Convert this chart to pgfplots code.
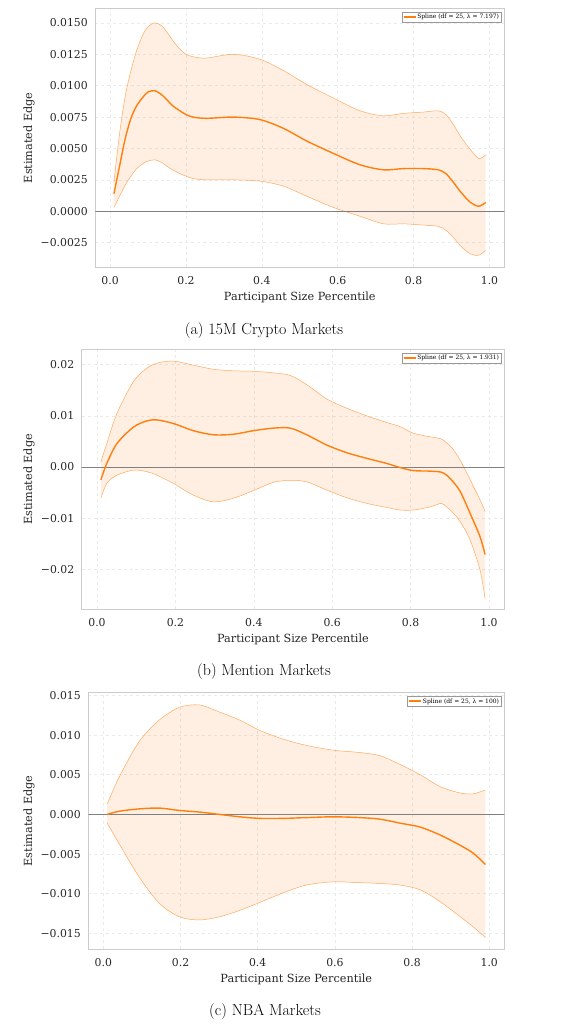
\documentclass[border=0pt]{standalone}
\usepackage{fontspec}
\setmainfont{DejaVu Serif}
\newfontfamily\lm{Latin Modern Roman}
\usepackage{pgfplots}
\pgfplotsset{compat=1.18}
\usepgfplotslibrary{fillbetween}
\usepackage{pgfplotstable}
\definecolor{mplorange}{HTML}{FF7F0E}
\definecolor{spine}{HTML}{CCCCCC}
\definecolor{gridc}{HTML}{EBEBEB}
\definecolor{txt}{HTML}{262626}
\newcommand\tl[1]{\hbox{\fontsize{10.9}{13}\selectfont\color{txt}#1}}

\pgfplotstableread{
x mean lo hi
0.010 0.0014 0.0003 0.0023
0.025 0.0036 0.0012 0.0062
0.040 0.0058 0.0021 0.0092
0.055 0.0074 0.0028 0.0112
0.070 0.0084 0.0034 0.0128
0.087 0.0091 0.0038 0.0141
0.100 0.0095 0.0040 0.0147
0.118 0.0096 0.0041 0.0150
0.135 0.0093 0.0039 0.0148
0.149 0.0089 0.0036 0.0143
0.165 0.0084 0.0033 0.0136
0.184 0.0080 0.0030 0.0129
0.200 0.0077 0.0028 0.0125
0.219 0.0075 0.0026 0.0123
0.254 0.0074 0.0025 0.0122
0.325 0.0075 0.0025 0.0125
0.395 0.0073 0.0024 0.0121
0.457 0.0066 0.0020 0.0112
0.518 0.0056 0.0012 0.0101
0.589 0.0046 0.0003 0.0090
0.659 0.0037 -0.0004 0.0080
0.721 0.0033 -0.0010 0.0076
0.774 0.0034 -0.0010 0.0078
0.826 0.0034 -0.0011 0.0079
0.865 0.0033 -0.0012 0.0080
0.885 0.0030 -0.0015 0.0077
0.905 0.0023 -0.0021 0.0069
0.925 0.0015 -0.0028 0.0059
0.950 0.0007 -0.0034 0.0049
0.972 0.0004 -0.0035 0.0042
0.990 0.0007 -0.0031 0.0045
}\dataA

\pgfplotstableread{
x mean lo hi
0.010 -0.0025 -0.0061 0.0010
0.025 0.0007 -0.0032 0.0046
0.051 0.0046 -0.0016 0.0105
0.093 0.0078 -0.0006 0.0167
0.127 0.0090 -0.0009 0.0193
0.153 0.0092 -0.0016 0.0203
0.195 0.0085 -0.0032 0.0207
0.246 0.0071 -0.0055 0.0199
0.297 0.0063 -0.0068 0.0191
0.348 0.0064 -0.0061 0.0188
0.399 0.0071 -0.0046 0.0187
0.450 0.0076 -0.0030 0.0184
0.493 0.0076 -0.0026 0.0179
0.535 0.0063 -0.0029 0.0161
0.586 0.0043 -0.0045 0.0133
0.637 0.0028 -0.0060 0.0115
0.688 0.0017 -0.0071 0.0100
0.739 0.0007 -0.0079 0.0087
0.773 -0.0001 -0.0084 0.0079
0.807 -0.0007 -0.0084 0.0066
0.850 -0.0008 -0.0078 0.0059
0.878 -0.0010 -0.0071 0.0055
0.892 -0.0016 -0.0078 0.0047
0.905 -0.0026 -0.0087 0.0038
0.926 -0.0047 -0.0106 0.0014
0.952 -0.0091 -0.0143 -0.0025
0.977 -0.0136 -0.0201 -0.0064
0.990 -0.0171 -0.0257 -0.0087
}\dataB

\pgfplotstableread{
x mean lo hi
0.010 0.0000 -0.0011 0.0013
0.041 0.0004 -0.0037 0.0047
0.093 0.0007 -0.0079 0.0092
0.145 0.0008 -0.0112 0.0119
0.197 0.0005 -0.0129 0.0135
0.249 0.0003 -0.0133 0.0138
0.301 0.0000 -0.0129 0.0129
0.353 -0.0003 -0.0121 0.0119
0.405 -0.0005 -0.0111 0.0106
0.465 -0.0005 -0.0099 0.0095
0.526 -0.0004 -0.0089 0.0087
0.595 -0.0003 -0.0085 0.0081
0.665 -0.0004 -0.0086 0.0078
0.717 -0.0006 -0.0087 0.0074
0.769 -0.0011 -0.0089 0.0063
0.821 -0.0016 -0.0095 0.0050
0.873 -0.0026 -0.0110 0.0035
0.925 -0.0039 -0.0129 0.0027
0.959 -0.0049 -0.0142 0.0026
0.990 -0.0063 -0.0155 0.0031
}\dataC

\pgfplotsset{
  panel/.style={
    scale only axis,
    anchor=south west,
    xmin=-0.039, xmax=1.039,
    xtick={0,0.2,0.4,0.6,0.8,1.0},
    xticklabels={\tl{0.0},\tl{0.2},\tl{0.4},\tl{0.6},\tl{0.8},\tl{1.0}},
    scaled y ticks=false, scaled x ticks=false,
    major tick length=0pt,
    xticklabel shift=6bp, yticklabel shift=4bp,
    grid=major,
    major grid style={dashed, gridc, line width=0.6bp},
    axis line style={spine, line width=0.8bp},
    xlabel={Participant Size Percentile},
    ylabel={Estimated Edge},
    every axis x label/.style={at={(rel axis cs:0.5,0)}, yshift=-30bp, anchor=center,
      font=\fontsize{11.3}{13}\selectfont, text=txt},
    legend style={at={(rel axis cs:1,1)}, anchor=north east, xshift=-3.3bp, yshift=-3.7bp,
      font=\fontsize{6}{7}\selectfont, draw=gray!80, line width=0.5bp,
      inner sep=0.8bp, nodes={inner sep=1bp}},
    legend image code/.code={\draw[#1] (0bp,0.3bp) -- (12bp,0.3bp);},
    legend cell align=left,
  },
  ylab/.style={every axis y label/.style={at={(axis description cs:#1,0.5)}, rotate=90, anchor=center,
      font=\fontsize{11.3}{13}\selectfont, text=txt}},
  hiband/.style={draw=mplorange, draw opacity=0.65, line width=0.5bp, smooth, forget plot},
  band/.style={fill=mplorange, fill opacity=0.12, draw=none, forget plot},
  zeroline/.style={color=gray, line width=1bp, forget plot},
  meanline/.style={mplorange, line width=1.4bp, smooth, forget plot},
}

\begin{document}
\begin{tikzpicture}

% (a)
\begin{axis}[panel, ylab=-0.1621, at={(95.3bp,-267.3bp)}, width=409bp, height=259bp,
  ymin=-0.00446, ymax=0.01616,
  ytick={-0.0025,0,0.0025,0.005,0.0075,0.01,0.0125,0.015},
  yticklabels={\tl{−0.0025},\tl{0.0000},\tl{0.0025},\tl{0.0050},\tl{0.0075},\tl{0.0100},\tl{0.0125},\tl{0.0150}}]
\addlegendimage{mplorange, line width=1.5bp}
\addlegendentry{Spline (df = 25, λ = 7.197)}
\addplot[hiband, name path=hi] table[x=x,y=hi]{\dataA};
\addplot[hiband, name path=lo] table[x=x,y=lo]{\dataA};
\addplot[band] fill between[of=hi and lo];
\addplot[zeroline] coordinates {(-0.2,0) (1.2,0)};
\addplot[meanline] table[x=x,y=mean]{\dataA};
\end{axis}
\node[font=\lm\fontsize{16}{19}\selectfont] at (264bp,-330.7bp) {(a) 15M Crypto Markets};

% (b)
\begin{axis}[panel, ylab=-0.1247, at={(81.7bp,-609.3bp)}, width=422.6bp, height=260bp,
  ymin=-0.0278, ymax=0.0230,
  ytick={-0.02,-0.01,0,0.01,0.02},
  yticklabels={\tl{−0.02},\tl{−0.01},\tl{0.00},\tl{0.01},\tl{0.02}}]
\addlegendimage{mplorange, line width=1.5bp}
\addlegendentry{Spline (df = 25, λ = 1.931)}
\addplot[hiband, name path=hi] table[x=x,y=hi]{\dataB};
\addplot[hiband, name path=lo] table[x=x,y=lo]{\dataB};
\addplot[band] fill between[of=hi and lo];
\addplot[zeroline] coordinates {(-0.2,0) (1.2,0)};
\addplot[meanline] table[x=x,y=mean]{\dataB};
\end{axis}
\node[font=\lm\fontsize{16}{19}\selectfont] at (264bp,-671.7bp) {(b) Mention Markets};

% (c)
\begin{axis}[panel, ylab=-0.1425, at={(88.3bp,-949.3bp)}, width=416bp, height=256.6bp,
  ymin=-0.0170, ymax=0.01534,
  ytick={-0.015,-0.01,-0.005,0,0.005,0.01,0.015},
  yticklabels={\tl{−0.015},\tl{−0.010},\tl{−0.005},\tl{0.000},\tl{0.005},\tl{0.010},\tl{0.015}}]
\addlegendimage{mplorange, line width=1.5bp}
\addlegendentry{Spline (df = 25, λ = 100)}
\addplot[hiband, name path=hi] table[x=x,y=hi]{\dataC};
\addplot[hiband, name path=lo] table[x=x,y=lo]{\dataC};
\addplot[band] fill between[of=hi and lo];
\addplot[zeroline] coordinates {(-0.2,0) (1.2,0)};
\addplot[meanline] table[x=x,y=mean]{\dataC};
\end{axis}
\node[font=\lm\fontsize{16}{19}\selectfont] at (265bp,-1012bp) {(c) NBA Markets};
\path (0,0) rectangle (584bp,-1027bp);
\end{tikzpicture}
\end{document}
